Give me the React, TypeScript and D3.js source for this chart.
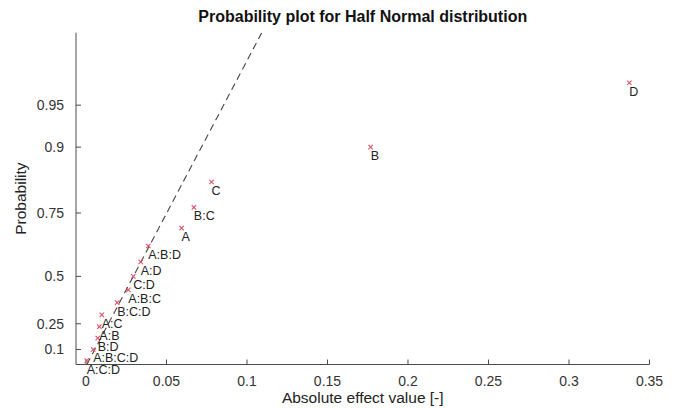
import React from "react";
import * as d3 from "d3";

const labels = ["A:C:D","A:B:C:D","B:D","A:B","A:C","B:C:D","A:B:C","C:D","A:D","A:B:D","A","B:C","C","B","D"];
const effects = [0.0005,0.0045,0.0073,0.0083,0.0098,0.0194,0.0263,0.0294,0.034,0.0387,0.0594,0.067,0.078,0.1768,0.3375];
const probs = [0.0333,0.1,0.1667,0.2333,0.3,0.3667,0.4333,0.5,0.5667,0.6333,0.7,0.7667,0.8333,0.9,0.9667];
const xTicks = [0,0.05,0.1,0.15,0.2,0.25,0.3,0.35];
const xTickLabels = ["0","0.05","0.1","0.15","0.2","0.25","0.3","0.35"];
const yTicks = [0.1,0.25,0.5,0.75,0.9,0.95];
const yTickLabels = ["0.1","0.25","0.5","0.75","0.9","0.95"];
const refSigma = 0.0436;

// inverse standard normal CDF (Acklam)
function normInv(p: number): number {
  const a = [-3.969683028665376e1,2.209460984245205e2,-2.759285104469687e2,1.38357751867269e2,-3.066479806614716e1,2.506628277459239];
  const b = [-5.447609879822406e1,1.615858368580409e2,-1.556989798598866e2,6.680131188771972e1,-1.328068155288572e1];
  const c = [-7.784894002430293e-3,-3.223964580411365e-1,-2.400758277161838,-2.549732539343734,4.374664141464968,2.938163982698783];
  const d = [7.784695709041462e-3,3.224671290700398e-1,2.445134137142996,3.754408661907416];
  const pl = 0.02425;
  if (p < pl) {
    const q = Math.sqrt(-2 * Math.log(p));
    return (((((c[0]*q+c[1])*q+c[2])*q+c[3])*q+c[4])*q+c[5])/((((d[0]*q+d[1])*q+d[2])*q+d[3])*q+1);
  } else if (p <= 1 - pl) {
    const q = p - 0.5, r = q*q;
    return (((((a[0]*r+a[1])*r+a[2])*r+a[3])*r+a[4])*r+a[5])*q/(((((b[0]*r+b[1])*r+b[2])*r+b[3])*r+b[4])*r+1);
  } else {
    const q = Math.sqrt(-2 * Math.log(1 - p));
    return -(((((c[0]*q+c[1])*q+c[2])*q+c[3])*q+c[4])*q+c[5])/((((d[0]*q+d[1])*q+d[2])*q+d[3])*q+1);
  }
}
const halfNormQ = (p: number) => normInv((1 + p) / 2);

const W = 674, H = 408;
const left = 76, right = 649.5, top = 32.7, bottom = 364.5;
const qMin = 0.0128, qMax = 2.504;

export default function App() {
  const x = d3.scaleLinear().domain([-0.0062, 0.35]).range([left, right]);
  const yq = d3.scaleLinear().domain([qMin, qMax]).range([bottom, top]);
  const y = (p: number) => yq(halfNormQ(p));
  const font = "'Liberation Sans', Arial, sans-serif";
  const refLine = d3.line<number>().x(q => x(refSigma * q)).y(q => yq(q))([qMin, qMax]) || "";
  const axisColor = "#4a4a4a";
  const textColor = "#333";
  return (
    <svg width={W} height={H} style={{ position: "absolute", left: 0, top: 0, background: "#fff" }} fontFamily={font}>
      <defs>
        <clipPath id="plotclip"><rect x={left} y={top} width={right - left} height={bottom - top} /></clipPath>
      </defs>
      <text x={(left + right) / 2} y={22} textAnchor="middle" fontWeight="bold" fontSize={16} fill="#111">Probability plot for Half Normal distribution</text>
      {/* axes */}
      <line x1={left} y1={top} x2={left} y2={bottom} stroke={axisColor} strokeWidth={1} />
      <line x1={left} y1={bottom} x2={right} y2={bottom} stroke={axisColor} strokeWidth={1} />
      {xTicks.map((t, i) => (
        <g key={"xt" + i}>
          <line x1={x(t)} x2={x(t)} y1={bottom} y2={bottom - 5} stroke={axisColor} />
          <text x={x(t)} y={bottom + 21} textAnchor="middle" fontSize={14} fill={textColor}>{xTickLabels[i]}</text>
        </g>
      ))}
      {yTicks.map((t, i) => (
        <g key={"yt" + i}>
          <line x1={left} x2={left + 5} y1={y(t)} y2={y(t)} stroke={axisColor} />
          <text x={left - 12} y={y(t) + 5} textAnchor="end" fontSize={14} fill={textColor}>{yTickLabels[i]}</text>
        </g>
      ))}
      <text x={(left + right) / 2} y={403} textAnchor="middle" fontSize={15.5} fill="#222">Absolute effect value [-]</text>
      <text transform={`translate(26,${(top + bottom) / 2}) rotate(-90)`} textAnchor="middle" fontSize={15.5} fill="#222">Probability</text>
      <path d={refLine} clipPath="url(#plotclip)" fill="none" stroke="#444" strokeWidth={1.1} strokeDasharray="7,4.5" />
      {effects.map((v, i) => {
        const cx = x(v), cy = y(probs[i]);
        const s = 2.2;
        return (
          <g key={"p" + i}>
            <path d={`M${cx - s},${cy - s}L${cx + s},${cy + s}M${cx - s},${cy + s}L${cx + s},${cy - s}`} stroke="#e0506a" strokeWidth={1.1} />
            <text x={cx} y={cy + 13} fontSize={12.5} fill="#222">{labels[i]}</text>
          </g>
        );
      })}
    </svg>
  );
}
